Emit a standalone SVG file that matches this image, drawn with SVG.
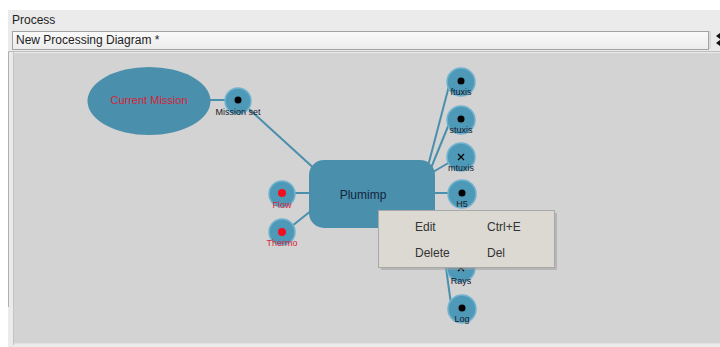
<svg xmlns="http://www.w3.org/2000/svg" width="720" height="347" viewBox="0 0 720 347">
<defs>
<linearGradient id="cb" x1="0" y1="0" x2="0" y2="1"><stop offset="0" stop-color="#fafafa"/><stop offset="1" stop-color="#ebebeb"/></linearGradient>
<style>
.ui{font-family:"Liberation Sans",Arial,sans-serif;fill:#222}
.node{fill:#4a8fab}
.port{fill:#4f99b8;stroke:#72b3cf;stroke-width:1.5}
.plbl{font-family:"Liberation Sans",Arial,sans-serif;font-size:9px;fill:#1a1a2a;text-anchor:middle}
.rlbl{font-family:"Liberation Sans",Arial,sans-serif;font-size:9px;fill:#d81f3a;text-anchor:middle}
.edge{stroke:#4a8fab;stroke-width:2;fill:none}
.menu{font-family:"Liberation Sans",Arial,sans-serif;font-size:12px;fill:#333}
</style>
</defs>
<rect width="720" height="347" fill="#ffffff"/>
<rect x="8" y="10" width="712" height="337" fill="#ebebeb"/>
<text class="ui" x="12" y="24" font-size="12">Process</text>
<rect x="12.5" y="31.5" width="696" height="18" fill="url(#cb)" stroke="#a3a3a3"/>
<text class="ui" x="16" y="44" font-size="12">New Processing Diagram *</text>
<line x1="710" y1="31" x2="710" y2="49" stroke="#c8c8c8"/>
<path d="M716 36 L720 33 L720 39 Z M716 43 L720 40 L720 46 Z" fill="#111"/>
<line x1="8" y1="51.5" x2="720" y2="51.5" stroke="#bdbdbd"/>
<rect x="14" y="53" width="706" height="290" fill="#d3d3d3"/>
<line x1="8.5" y1="52" x2="8.5" y2="307" stroke="#b0b0b0"/>
<line x1="13.5" y1="52" x2="13.5" y2="345" stroke="#c4c4c4"/>
<line x1="14" y1="343.5" x2="720" y2="343.5" stroke="#e2e2e2"/>

<g id="connectors">
<line class="edge" x1="208" y1="100" x2="226" y2="100"/>
<line class="edge" x1="249" y1="109" x2="318" y2="172"/>
<line class="edge" x1="295" y1="193" x2="310" y2="193"/>
<line class="edge" x1="292" y1="226" x2="312" y2="210"/>
<line class="edge" x1="428" y1="166" x2="449" y2="86"/>
<line class="edge" x1="431" y1="168" x2="449" y2="124"/>
<line class="edge" x1="433" y1="172" x2="450" y2="162"/>
<line class="edge" x1="434" y1="193" x2="448" y2="193"/>
<line class="edge" x1="436" y1="222" x2="449" y2="268"/>
<line class="edge" x1="440" y1="224" x2="451" y2="304"/>
</g>

<g id="current-mission">
<ellipse class="node" cx="149" cy="101" rx="61.5" ry="34"/>
<text x="149" y="104" font-family="Liberation Sans, Arial, sans-serif" font-size="11" fill="#d81f3a" text-anchor="middle">Current Mission</text>
</g>
<g id="mission-set">
<circle class="port" cx="238" cy="101" r="13"/>
<circle cx="238" cy="100" r="3.5" fill="#000"/>
<text class="plbl" x="238" y="115">Mission set</text>
</g>
<g id="plumimp">
<rect class="node" x="309" y="160" width="126" height="68" rx="15"/>
<text x="363" y="199" font-family="Liberation Sans, Arial, sans-serif" font-size="12" fill="#142640" text-anchor="middle">Plumimp</text>
</g>
<g id="flow">
<circle class="port" cx="282" cy="194" r="13"/>
<circle cx="282" cy="193" r="4" fill="#f01020"/>
<text class="rlbl" x="282" y="208">Flow</text>
</g>
<g id="thermo">
<circle class="port" cx="282" cy="232" r="13"/>
<circle cx="282" cy="232" r="4" fill="#f01020"/>
<text class="rlbl" x="282" y="246">Thermo</text>
</g>
<g id="ftuxis">
<circle class="port" cx="461" cy="82" r="14"/>
<circle cx="461" cy="81" r="3.5" fill="#000"/>
<text class="plbl" x="461" y="95">ftuxis</text>
</g>
<g id="stuxis">
<circle class="port" cx="461" cy="120" r="14"/>
<circle cx="461" cy="119" r="3.5" fill="#000"/>
<text class="plbl" x="461" y="133">stuxis</text>
</g>
<g id="mtuxis">
<circle class="port" cx="461" cy="157" r="14"/>
<path d="M458 154 l6 6 M464 154 l-6 6" stroke="#000" stroke-width="1.2"/>
<text class="plbl" x="461" y="171">mtuxis</text>
</g>
<g id="h5">
<circle class="port" cx="462" cy="194" r="14"/>
<circle cx="462" cy="193" r="3.5" fill="#000"/>
<text class="plbl" x="462" y="207">H5</text>
</g>
<g id="rays">
<circle class="port" cx="461" cy="268" r="14"/>
<path d="M458 265 l6 6 M464 265 l-6 6" stroke="#000" stroke-width="1.2"/>
<text class="plbl" x="461" y="284">Rays</text>
</g>
<g id="log">
<circle class="port" cx="462" cy="309" r="14"/>
<circle cx="462" cy="308" r="3.5" fill="#000"/>
<text class="plbl" x="462" y="322">Log</text>
</g>

<g id="context-menu">
<rect x="381" y="213" width="176" height="57" fill="#9a9a9a" opacity="0.5"/>
<rect x="378.5" y="210.5" width="176" height="57" fill="#dcd9d2" stroke="#a8a8a8"/>
<text class="menu" x="415" y="231">Edit</text>
<text class="menu" x="487" y="231">Ctrl+E</text>
<text class="menu" x="415" y="257">Delete</text>
<text class="menu" x="487" y="257">Del</text>
</g>
</svg>
